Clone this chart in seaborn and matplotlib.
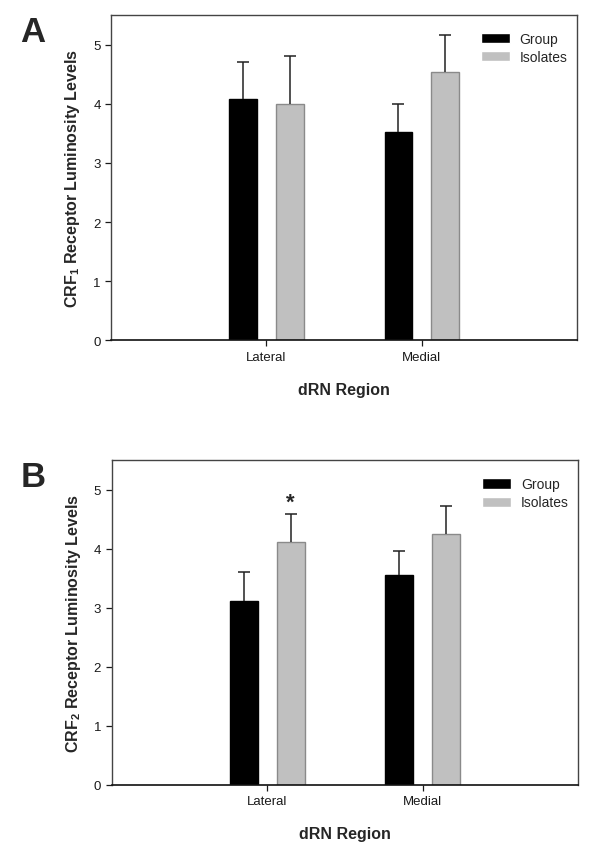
import numpy as np
import pandas as pd
import matplotlib
matplotlib.use("Agg")
import matplotlib.pyplot as plt
import seaborn as sns

# values (means and upper SEM)
regions = ["Lateral", "Medial"]
groups = ["Group", "Isolates"]

crf1_group = [4.09, 3.52]
crf1_isolates = [3.99, 4.54]
crf1_group_err = [0.61, 0.48]
crf1_isolates_err = [0.82, 0.63]

crf2_group = [3.11, 3.55]
crf2_isolates = [4.11, 4.25]
crf2_group_err = [0.49, 0.41]
crf2_isolates_err = [0.48, 0.48]

panel_letters = ["A", "B"]
ylabels = ["CRF$_1$ Receptor Luminosity Levels", "CRF$_2$ Receptor Luminosity Levels"]
xlabel = "dRN Region"
yticks = [0, 1, 2, 3, 4, 5]

sns.set_style("ticks")
plt.rcParams["font.family"] = ["Liberation Sans", "DejaVu Sans"]
plt.rcParams["mathtext.default"] = "regular"

palette = {"Group": "#000000", "Isolates": "#c0c0c0"}
edges = {"Group": "#000000", "Isolates": "#8a8a8a"}


def make_frame(g_vals, i_vals):
    return pd.DataFrame({
        "region": regions * 2,
        "group": ["Group"] * len(regions) + ["Isolates"] * len(regions),
        "value": list(g_vals) + list(i_vals),
    })


def draw_panel(ax, df, errs, ylabel, letter, star=None):
    sns.barplot(data=df, x="region", y="value", hue="group", order=regions,
                hue_order=groups, palette=palette, width=0.6, gap=0.4,
                errorbar=None, ax=ax, saturation=1, linewidth=1.0)
    for cont, grp, err in zip(ax.containers, groups, errs):
        xs, ys = [], []
        for p in cont.patches:
            p.set_edgecolor(edges[grp])
            xs.append(p.get_x() + p.get_width() / 2)
            ys.append(p.get_height())
        eb = ax.errorbar(xs, ys, yerr=[np.zeros(len(err)), err], fmt="none",
                         ecolor="#222222", elinewidth=1.1, capsize=4.5,
                         capthick=1.1, zorder=1)
        # only the upper cap is drawn in the original
        eb[1][0].set_visible(False)
    if star is not None:
        cont = ax.containers[star[0]]
        p = cont.patches[star[1]]
        ax.text(p.get_x() + p.get_width() / 2, star[2], "*", ha="center",
                va="center", fontsize=16, fontweight="bold")

    ax.set_xlim(-1, 2)
    ax.set_ylim(0, 5.5)
    ax.set_yticks(yticks)
    ax.set_yticklabels([str(t) for t in yticks])
    ax.tick_params(axis="both", labelsize=9.5, length=4, width=0.9,
                   colors="#1a1a1a", direction="out")
    ax.set_xlabel(xlabel, fontsize=11.5, fontweight="bold", labelpad=14)
    ax.set_ylabel(ylabel, fontsize=11.5, fontweight="bold", labelpad=8)
    for side in ["top", "right", "left"]:
        ax.spines[side].set_visible(True)
        ax.spines[side].set_color("#444444")
        ax.spines[side].set_linewidth(1.0)
    ax.spines["bottom"].set_color("#111111")
    ax.spines["bottom"].set_linewidth(1.2)

    handles, labels = ax.get_legend_handles_labels()
    ax.legend(handles, labels, loc="upper right", bbox_to_anchor=(1.0, 0.978),
              frameon=False, fontsize=10, handlelength=2.1, handleheight=0.75,
              handletextpad=0.7, labelspacing=0.3, borderaxespad=0.3)

    ax.text(-0.195, 1.0, letter, transform=ax.transAxes, fontsize=25,
            fontweight="bold", va="top", ha="left")


fig = plt.figure(figsize=(6, 8.53), dpi=100)
ax1 = fig.add_axes([0.185, 0.600, 0.777, 0.381])
ax2 = fig.add_axes([0.186, 0.079, 0.778, 0.380])

draw_panel(ax1, make_frame(crf1_group, crf1_isolates),
           [crf1_group_err, crf1_isolates_err], ylabels[0], panel_letters[0])
draw_panel(ax2, make_frame(crf2_group, crf2_isolates),
           [crf2_group_err, crf2_isolates_err], ylabels[1], panel_letters[1],
           star=(1, 0, 4.80))

fig.savefig("out.png", dpi=100)
